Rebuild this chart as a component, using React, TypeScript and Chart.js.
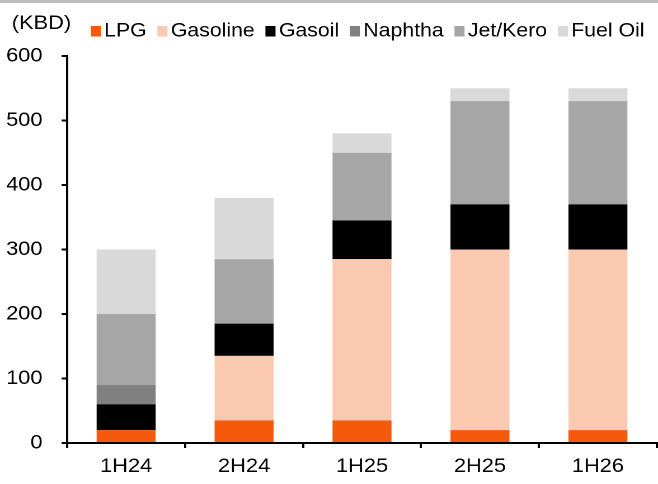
import React, { useEffect, useRef } from "react";
import { Chart, registerables } from "chart.js";

Chart.register(...registerables);

const categories = ["1H24", "2H24", "1H25", "2H25", "1H26"];
const lpg = [20, 35, 35, 20, 20];
const gasoline = [0, 100, 250, 280, 280];
const gasoil = [40, 50, 60, 70, 70];
const naphtha = [30, 0, 0, 0, 0];
const jetKero = [110, 100, 105, 160, 160];
const fuelOil = [100, 95, 30, 20, 20];
const seriesNames = ["LPG", "Gasoline", "Gasoil", "Naphtha", "Jet/Kero", "Fuel Oil"];
const seriesColors = ["#F5590C", "#FBC9AF", "#000000", "#808080", "#A6A6A6", "#D9D9D9"];
const unitLabel = "(KBD)";
const yMin = 0;
const yMax = 600;
const yStep = 100;

const FONT = '"Liberation Sans", Arial, sans-serif';
const W_INTERNAL = 588;
const H = 484;
const W_DISPLAY = 658;

const decorPlugin = {
  id: "decor",
  afterDraw(chart: any) {
    const ctx = chart.ctx as CanvasRenderingContext2D;
    ctx.save();
    ctx.fillStyle = "#BFBFBF";
    ctx.fillRect(0, 0, chart.width, 3);
    ctx.fillStyle = "#000";
    ctx.textBaseline = "alphabetic";
    ctx.textAlign = "left";
    ctx.font = `19.5px ${FONT}`;
    ctx.fillText(unitLabel, 10.5, 29);
    ctx.font = `19px ${FONT}`;
    let x = 81;
    chart.data.datasets.forEach((ds: any) => {
      ctx.fillStyle = ds.backgroundColor;
      ctx.fillRect(x, 26, 9, 10.5);
      x += 12;
      ctx.fillStyle = "#000";
      ctx.fillText(ds.label, x, 36.6);
      x += ctx.measureText(ds.label).width + 9.6;
    });
    ctx.restore();
  },
};

export default function App() {
  const ref = useRef<HTMLCanvasElement | null>(null);
  useEffect(() => {
    if (!ref.current) return;
    const values = [lpg, gasoline, gasoil, naphtha, jetKero, fuelOil];
    const chart = new Chart(ref.current, {
      type: "bar",
      data: {
        labels: categories,
        datasets: values.map((v, i) => ({
          label: seriesNames[i],
          data: v,
          backgroundColor: seriesColors[i],
          borderWidth: 0,
          stack: "s",
          barPercentage: 0.5,
          categoryPercentage: 1,
        })),
      },
      options: {
        responsive: false,
        devicePixelRatio: 2,
        animation: false,
        layout: { padding: { top: 56, right: 1, left: 0, bottom: 0 } },
        plugins: {
          legend: { display: false },
          tooltip: { enabled: false },
          title: { display: false },
        },
        scales: {
          x: {
            stacked: true,
            afterFit: (s: any) => {
              s.height = 41;
            },
            grid: {
              display: true,
              drawOnChartArea: false,
              drawTicks: true,
              tickLength: 5,
              color: "#000",
              lineWidth: 2,
              offset: true,
            },
            border: { display: true, color: "#000", width: 2 },
            ticks: {
              color: "#000",
              font: { family: FONT, size: 19.5 },
              padding: 7,
              maxRotation: 0,
              autoSkip: false,
            },
          },
          y: {
            stacked: true,
            min: yMin,
            max: yMax,
            afterFit: (s: any) => {
              s.width = 60;
            },
            grid: {
              display: true,
              drawOnChartArea: false,
              drawTicks: true,
              tickLength: 5,
              color: "#000",
              lineWidth: 2,
            },
            border: { display: true, color: "#000", width: 2 },
            ticks: {
              stepSize: yStep,
              color: "#000",
              font: { family: FONT, size: 19.5 },
              padding: 17,
            },
          },
        },
      },
      plugins: [decorPlugin],
    });
    return () => chart.destroy();
  }, []);
  return (
    <div style={{ position: "fixed", left: 0, top: 0, width: W_DISPLAY, height: H, background: "#fff" }}>
      <canvas
        ref={ref}
        width={W_INTERNAL}
        height={H}
        style={{ width: W_DISPLAY + "px", height: H + "px", display: "block" }}
      />
    </div>
  );
}
